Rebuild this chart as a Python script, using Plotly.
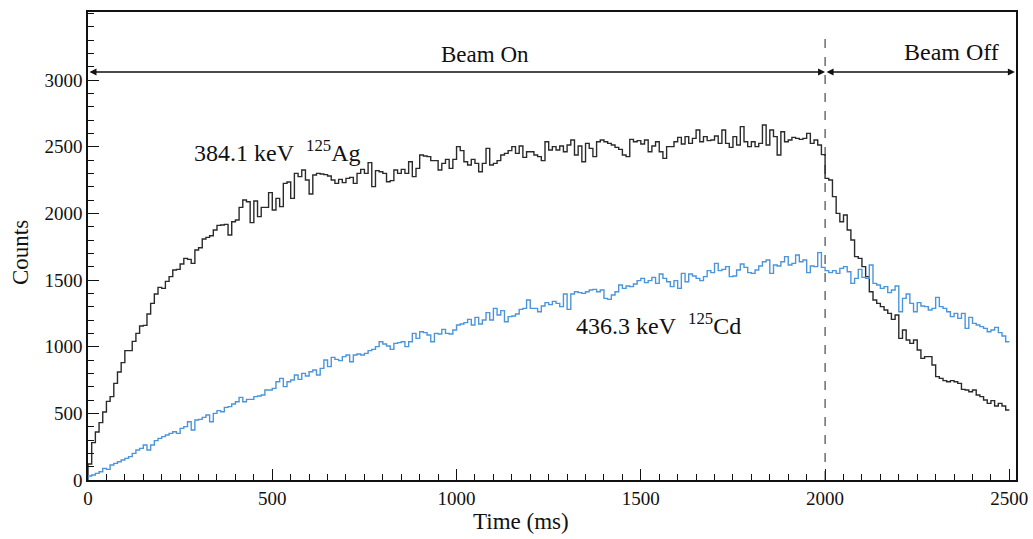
import numpy as np
import plotly.graph_objects as go

BIN_WIDTH = 10  # ms

# 384.1 keV 125Ag counts per 10 ms bin (0-2500 ms)
ag_counts = [
    120, 280, 360, 430, 510, 590, 625, 725, 810, 880,
    970, 970, 1040, 1100, 1155, 1160, 1245, 1325, 1395, 1445,
    1437, 1490, 1525, 1575, 1580, 1620, 1662, 1655, 1625, 1725,
    1742, 1807, 1820, 1832, 1875, 1910, 1912, 1917, 1837, 1937,
    1950, 2045, 2100, 2087, 1930, 2092, 1975, 2045, 2045, 2155,
    2025, 2112, 2050, 2225, 2235, 2112, 2300, 2275, 2325, 2250,
    2145, 2287, 2300,
    2295, 2290, 2280, 2250, 2225, 2255, 2230, 2262, 2270, 2225,
    2300, 2330, 2300, 2380, 2200, 2320, 2312, 2300, 2237, 2245,
    2325, 2300, 2330, 2300, 2387, 2275, 2337, 2437, 2430, 2425,
    2395, 2395, 2325, 2375, 2405, 2337, 2405, 2500, 2470, 2387,
    2362, 2405, 2375, 2312, 2375, 2487, 2362, 2375, 2395, 2437,
    2450, 2470, 2500, 2450, 2505, 2420, 2462, 2462, 2437, 2425,
    2395, 2537, 2475, 2500,
    2475, 2505, 2462, 2512, 2550, 2437, 2505, 2387, 2525, 2487,
    2425, 2537, 2550, 2537, 2525, 2512, 2495, 2480, 2437, 2425,
    2555, 2537, 2545, 2520, 2550, 2462, 2505, 2537, 2462, 2412,
    2500, 2500, 2537, 2570, 2520, 2575, 2525, 2562, 2625, 2537,
    2575, 2545, 2550, 2580, 2525, 2625, 2525, 2495, 2575, 2512,
    2650, 2537, 2500, 2537, 2500, 2525, 2662, 2512, 2625, 2575,
    2437, 2612, 2537, 2550,
    2570, 2562, 2555, 2562, 2600, 2525, 2550, 2512, 2440, 2262,
    2250, 2125, 2000, 1937, 1987, 1875, 1800, 1675, 1662, 1600,
    1525, 1412, 1350, 1325, 1300, 1275, 1250, 1205, 1237, 1062,
    1125, 1050, 1025, 1050, 975, 912, 925, 925, 862, 775,
    762, 745, 737, 745, 737, 725, 680, 675, 662, 675,
    637, 625, 600, 575, 595, 555, 575, 555, 525,
]

# 436.3 keV 125Cd counts per 10 ms bin (0-2500 ms)
cd_counts = [
    30, 37, 50, 62, 87, 80, 112, 125, 137, 150,
    162, 175, 200, 225, 237, 262, 225, 262, 295, 312,
    325, 337, 350, 362, 350, 387, 400, 437, 375, 450,
    455, 470, 487, 437, 500, 520, 512, 545, 550, 570,
    587, 620, 587, 605, 605, 625, 630, 637, 675, 675,
    687, 737, 762, 700, 737, 750, 787, 755, 800, 780,
    812, 825, 787,
    837, 900, 850, 920, 905, 895, 925, 937, 887, 937,
    945, 937, 950, 970, 980, 1000, 1037, 1020, 1005, 980,
    1025, 1030, 1037, 1000, 1037, 1100, 1062, 1112, 1105, 1087,
    1037, 1100, 1095, 1130, 1100, 1095, 1125, 1162, 1170, 1180,
    1205, 1162, 1220, 1170, 1200, 1255, 1200, 1287, 1237, 1270,
    1187, 1225, 1230, 1245, 1280, 1287, 1350, 1287, 1287, 1262,
    1305, 1330, 1315, 1340,
    1325, 1300, 1395, 1280, 1395, 1412, 1405, 1400, 1412, 1425,
    1430, 1412, 1425, 1362, 1355, 1387, 1412, 1462, 1437, 1455,
    1450, 1470, 1495, 1512, 1480, 1495, 1520, 1475, 1545, 1512,
    1487, 1450, 1495, 1437, 1550, 1487, 1545, 1530, 1512, 1495,
    1525, 1570, 1555, 1625, 1570, 1580, 1600, 1525, 1530, 1575,
    1620, 1595, 1555, 1550, 1575, 1605, 1637, 1650, 1550, 1612,
    1605, 1637, 1675, 1612,
    1625, 1687, 1637, 1650, 1555, 1605, 1600, 1705, 1595, 1570,
    1555, 1570, 1550, 1587, 1600, 1562, 1475, 1512, 1580, 1520,
    1512, 1612, 1475, 1462, 1437, 1450, 1405, 1425, 1455, 1262,
    1362, 1395, 1325, 1262, 1330, 1305, 1300, 1275, 1287, 1370,
    1300, 1287, 1262, 1225, 1250, 1212, 1250, 1137, 1220, 1175,
    1162, 1150, 1137, 1112, 1125, 1145, 1105, 1080, 1037,
]

y_tick_vals = [0, 500, 1000, 1500, 2000, 2500, 3000]
x_tick_vals = [0, 500, 1000, 1500, 2000, 2500]

beam_switch = 2000
beam_end = 2515
arrow_y = 3060

labels = [
    dict(text="Beam On", x=1077, y=3190, size=23),
    dict(text="Beam Off", x=2342, y=3210, size=24),
    dict(text="384.1 keV&nbsp;&nbsp;<sup>125</sup>Ag", x=515, y=2470, size=24),
    dict(text="436.3 keV&nbsp;&nbsp;<sup>125</sup>Cd", x=1548, y=1170, size=24),
]


def step_xy(counts):
    edges = np.arange(len(counts) + 1) * BIN_WIDTH
    xs = np.concatenate([[edges[0]], edges])
    ys = np.concatenate([[0], counts, [counts[-1]]])
    return xs, ys


FONT = "Liberation Serif, Times New Roman, serif"

fig = go.Figure()
xs, ys = step_xy(ag_counts)
fig.add_trace(go.Scatter(x=xs, y=ys, mode="lines", line=dict(shape="hv", color="#2a2a2a", width=1.4),
                         showlegend=False, hoverinfo="skip"))
xs, ys = step_xy(cd_counts)
fig.add_trace(go.Scatter(x=xs, y=ys, mode="lines", line=dict(shape="hv", color="#4b95dc", width=1.4),
                         showlegend=False, hoverinfo="skip"))

# dashed line at beam switch
fig.add_shape(type="line", x0=beam_switch, x1=beam_switch, y0=0, y1=3360, xref="x", yref="y",
              line=dict(color="#222", width=1, dash="dash"))

# arrows
for x0, x1 in [(0, beam_switch), (beam_switch, beam_end)]:
    fig.add_annotation(x=x1, y=arrow_y, ax=x0, ay=arrow_y, xref="x", yref="y", axref="x", ayref="y",
                       text="", showarrow=True, arrowhead=2, arrowside="end+start", arrowsize=1,
                       arrowwidth=1.4, arrowcolor="#111", standoff=0, startstandoff=0)

for lab in labels:
    fig.add_annotation(x=lab["x"], y=lab["y"], xref="x", yref="y", text=lab["text"], showarrow=False,
                       xanchor="center", yanchor="middle",
                       font=dict(family=FONT, size=lab["size"], color="#111"))

# axis titles (placed as in the reference, slightly off-centre)
fig.add_annotation(x=0.4666, y=-0.0897, xref="paper", yref="paper", text="Time (ms)", showarrow=False,
                   xanchor="center", yanchor="middle",
                   font=dict(family=FONT, size=23, color="#111"))
fig.add_annotation(x=-0.0733, y=0.487, xref="paper", yref="paper", text="Counts", showarrow=False,
                   xanchor="center", yanchor="middle", textangle=-90,
                   font=dict(family=FONT, size=23, color="#111"))

fig.update_layout(
    width=1033, height=539,
    margin=dict(l=88, r=17, t=12, b=59, autoexpand=False),
    paper_bgcolor="white", plot_bgcolor="white",
    font=dict(family=FONT, size=19, color="#111"),
)
fig.update_xaxes(
    range=[0, 2518], tickmode="array", tickvals=x_tick_vals, ticks="inside", ticklen=11, tickwidth=1.2,
    tickcolor="#111", showline=True, linecolor="#111", linewidth=1.5, mirror=True, showgrid=False,
    zeroline=False, minor=dict(dtick=50, tick0=0, ticks="inside", ticklen=6, tickcolor="#111", showgrid=False),
    tickfont=dict(family=FONT, size=19), automargin=False,
)
fig.update_yaxes(
    range=[0, 3510], tickmode="array", tickvals=y_tick_vals, ticks="inside", ticklen=11, tickwidth=1.2,
    tickcolor="#111", showline=True, linecolor="#111", linewidth=1.5, mirror=True, showgrid=False,
    zeroline=False, minor=dict(dtick=100, tick0=0, ticks="inside", ticklen=6, tickcolor="#111", showgrid=False),
    tickfont=dict(family=FONT, size=19), automargin=False,
)

fig.write_html("out.html")
